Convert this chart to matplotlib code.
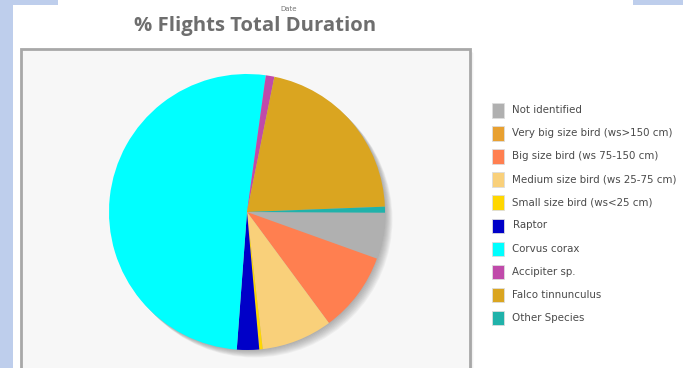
import matplotlib
matplotlib.use("Agg")
import matplotlib.pyplot as plt
from matplotlib.patches import Rectangle, Circle

W, H = 683, 368
DPI = 100

labels = [
    "Not identified",
    "Very big size bird (ws>150 cm)",
    "Big size bird (ws 75-150 cm)",
    "Medium size bird (ws 25-75 cm)",
    "Small size bird (ws<25 cm)",
    "Raptor",
    "Corvus corax",
    "Accipiter sp.",
    "Falco tinnunculus",
    "Other Species",
]
shares = [5.4, 0.0, 9.4, 8.3, 0.4, 2.6, 51.0, 1.0, 21.2, 0.7]
colors = [
    "#B0B0B0", "#E8A030", "#FF7F50", "#F9D07A", "#FFD700",
    "#0000C8", "#00FFFF", "#C04AAA", "#DAA520", "#20B2AA",
]

fig = plt.figure(figsize=(W / DPI, H / DPI), dpi=DPI)
fig.patch.set_facecolor("white")


def px_rect(x, y, w, h, **kw):
    # rectangle in pixel coordinates measured from the top-left corner
    return Rectangle((x / W, 1 - (y + h) / H), w / W, h / H,
                     transform=fig.transFigure, **kw)


# page decoration strips
strip = "#BECEEC"
fig.patches.append(px_rect(0, 0, 13, H, facecolor=strip, edgecolor="none"))
fig.patches.append(px_rect(0, 0, 58, 5, facecolor=strip, edgecolor="none"))
fig.patches.append(px_rect(633, 0, 50, 5, facecolor=strip, edgecolor="none"))

# plot box with soft right shadow
for i, a in enumerate([0.10, 0.07, 0.04]):
    fig.patches.append(px_rect(23 + i, 51 + i, 449, 330,
                               facecolor="#808080", edgecolor="none", alpha=a))
fig.patches.append(px_rect(21, 49, 449, 330, facecolor="#F7F7F7",
                           edgecolor="#A8A8A8", linewidth=2))

# titles
fig.text(255 / W, 1 - 26.5 / H, "% Flights Total Duration", ha="center",
         va="center", fontsize=14.6, fontfamily="Open Sans",
         fontweight="bold", color="#6E6E6E")
fig.text(289 / W, 1 - 9 / H, "Date", ha="center", va="center",
         fontsize=5, fontfamily="DejaVu Sans", color="#777777")

# pie
cx, cy, r = 247, 212, 138
L = 1.15
side = 2 * L * r
ax = fig.add_axes([(cx - side / 2) / W, 1 - (cy + side / 2) / H,
                   side / W, side / H])
ax.set_zorder(2)
ax.patch.set_visible(False)

# blurred drop shadow towards the lower right
for k in range(1, 10):
    d = 0.006 * k
    ax.add_patch(Circle((d, -d), 1.0, facecolor="#6E6E6E",
                        edgecolor="none", alpha=0.07, zorder=0))

ax.pie(shares, colors=colors, startangle=-0.3, counterclock=False,
       radius=1.0, wedgeprops=dict(linewidth=0, zorder=2))
ax.set_xlim(-L, L)
ax.set_ylim(-L, L)
ax.set_aspect("equal")
ax.axis("off")

# legend
x0, y0, step = 492, 110, 23.1
for i, (lab, col) in enumerate(zip(labels, colors)):
    yc = y0 + i * step
    fig.patches.append(px_rect(x0, yc - 7, 11.5, 14.5, facecolor=col,
                               edgecolor="#DDDDDD", linewidth=0.6))
    fig.text(512.5 / W, 1 - yc / H, lab, ha="left", va="center",
             fontsize=7.4, fontfamily="DejaVu Sans", color="#4A4A4A")

fig.savefig("out.png", dpi=DPI)
